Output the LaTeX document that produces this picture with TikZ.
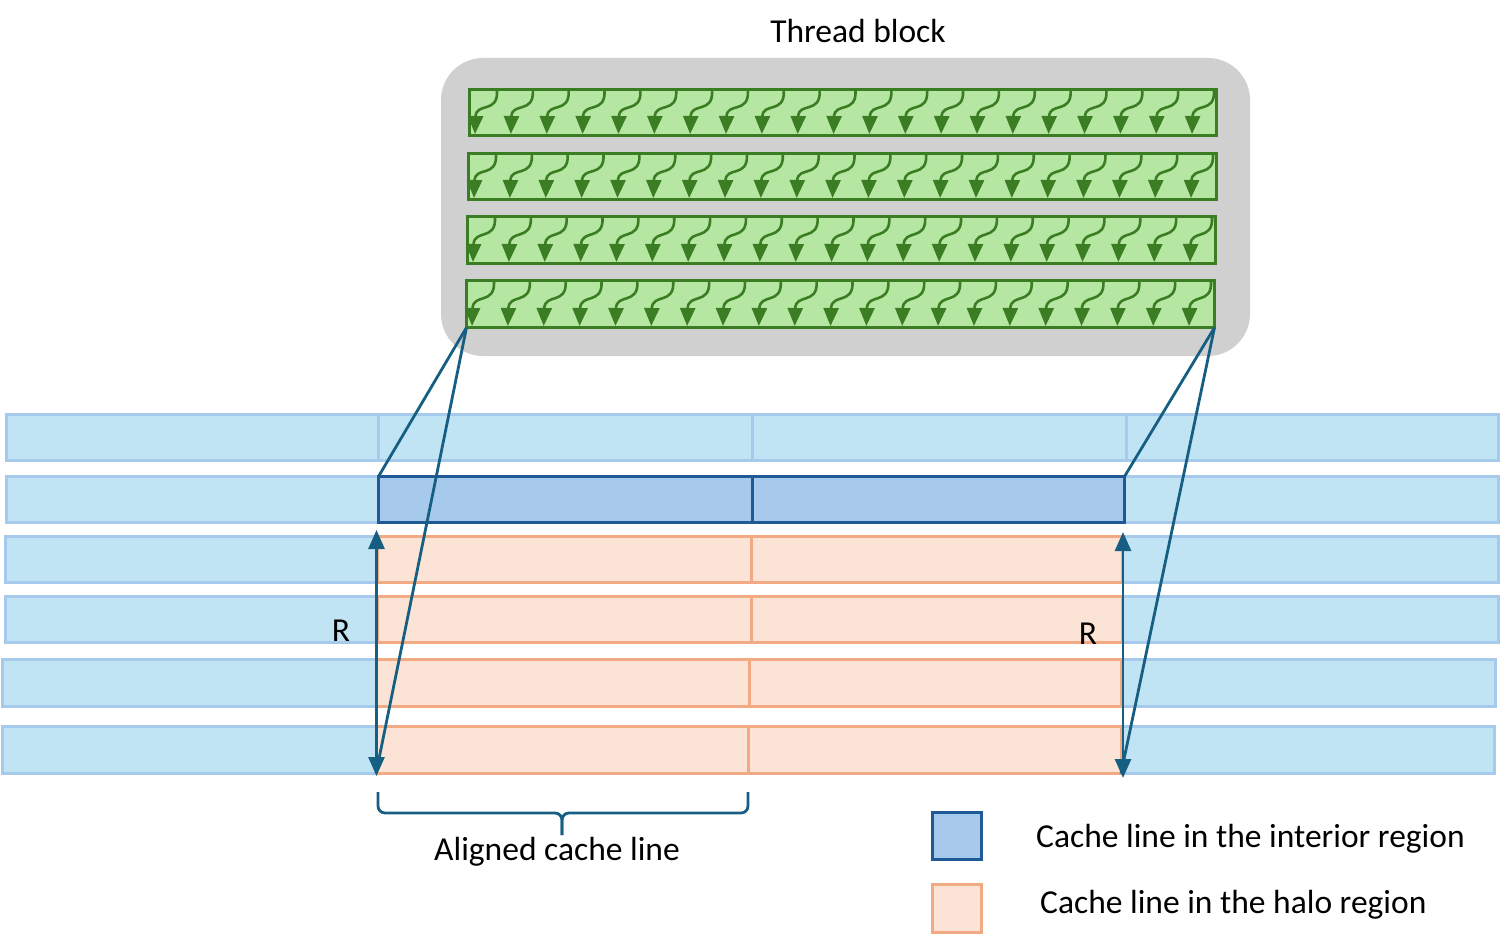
\documentclass[tikz,border=0pt]{standalone}
\usepackage{fontspec}
\setmainfont{Carlito}
\usetikzlibrary{arrows.meta}
\definecolor{rowfill}{HTML}{C1E4F5}
\definecolor{rowline}{HTML}{A6CAEC}
\definecolor{intfill}{HTML}{A6C9EC}
\definecolor{intline}{HTML}{1F5A96}
\definecolor{halofill}{HTML}{FBE3D6}
\definecolor{haloline}{HTML}{F2AA84}
\definecolor{warpfill}{HTML}{B5E6A2}
\definecolor{warpline}{HTML}{3B7D23}
\definecolor{blockgray}{HTML}{D0D0D0}
\definecolor{conncol}{HTML}{165F82}
\newcommand{\cellbox}[6]{\node[#6, minimum width={(#4-#2)*1pt}, minimum height={(#5-#3)*1pt}] (#1) at ({(#2+#4)/2},{(#3+#5)/2}) {};}
\begin{document}
\begin{tikzpicture}[x=1pt,y=-1pt,
  box/.style={draw, inner sep=0pt, outer sep=0pt, line width=3pt},
  rowcell/.style={box, draw=rowline, fill=rowfill},
  intcell/.style={box, draw=intline, fill=intfill},
  halocell/.style={box, draw=haloline, fill=halofill},
  warp/.style={box, draw=warpline, fill=warpfill},
  thread/.style={draw=warpline, line width=2.6pt, -{Triangle[length=18pt,width=15pt]}},
  conn/.style={draw=conncol, line width=2.8pt},
  rarrow/.style={conn, {Triangle[length=19pt,width=16pt]}-{Triangle[length=19pt,width=16pt]}},
  lbl/.style={font=\fontsize{33.5}{38}\selectfont, inner sep=0pt}
]
\useasboundingbox (0,0) rectangle (1510,942);

% memory rows
\cellbox{r1a}{6.5}{414.5}{378}{460.5}{rowcell}
\cellbox{r1b}{378}{414.5}{752}{460.5}{rowcell}
\cellbox{r1c}{752}{414.5}{1126}{460.5}{rowcell}
\cellbox{r1d}{1126}{414.5}{1498.5}{460.5}{rowcell}

\cellbox{r2a}{6.5}{476.5}{378.5}{522.5}{rowcell}
\cellbox{r2d}{1124.5}{476.5}{1498.5}{522.5}{rowcell}

\cellbox{r3a}{5.5}{536.5}{377}{582.5}{rowcell}
\cellbox{r3d}{1122}{536.5}{1498.5}{582.5}{rowcell}
\cellbox{r4a}{5.5}{596.5}{377}{642.5}{rowcell}
\cellbox{r4d}{1122}{596.5}{1498.5}{642.5}{rowcell}
\cellbox{r5a}{2.5}{659.5}{376}{706.5}{rowcell}
\cellbox{r5d}{1121}{659.5}{1495.5}{706.5}{rowcell}
\cellbox{r6a}{2.5}{726.5}{376}{773.5}{rowcell}
\cellbox{r6d}{1121}{726.5}{1494.5}{773.5}{rowcell}

% halo
\cellbox{h3a}{377}{536.5}{751}{582.5}{halocell}
\cellbox{h3b}{751}{536.5}{1122}{582.5}{halocell}
\cellbox{h4a}{377}{596.5}{751}{642.5}{halocell}
\cellbox{h4b}{751}{596.5}{1122}{642.5}{halocell}
\cellbox{h5a}{376}{659.5}{749}{706.5}{halocell}
\cellbox{h5b}{749}{659.5}{1121}{706.5}{halocell}
\cellbox{h6a}{376}{726.5}{748}{773.5}{halocell}
\cellbox{h6b}{748}{726.5}{1121}{773.5}{halocell}

% interior
\cellbox{int1}{378.5}{476.5}{752}{522.5}{intcell}
\cellbox{int2}{752}{476.5}{1124.5}{522.5}{intcell}

% thread block
\node[fill=blockgray, rounded corners=42pt, inner sep=0pt, minimum width=809pt, minimum height=298pt] (tb) at (845.5,207) {};
\node[lbl] (tbl) at (858,31) {Thread block};

\cellbox{w1}{469.5}{89.5}{1216.5}{135.5}{warp}
\cellbox{w2}{468.5}{153.5}{1216.5}{199.5}{warp}
\cellbox{w3}{467.5}{216.5}{1215.5}{263.5}{warp}
\cellbox{w4}{466.5}{280.5}{1214.5}{327.5}{warp}

\foreach \L/\T/\B in {468/88/137, 467/152/201, 466/215/265, 465/279/329}{
  \foreach \i in {0,...,20}{
    \pgfmathsetmacro{\xo}{\L+\i*35.85}
    \draw[thread] (\xo+29,\T+3) .. controls (\xo+30,\T+26) and (\xo+8,\T+14) .. (\xo+7,\B-3);
  }
}

% connectors from warp to cache lines
\draw[conn] (w4.south west) -- (int1.north west);
\draw[conn] (w4.south west) -- (h6a.south west);
\draw[conn] (w4.south east) -- (int2.north east);
\draw[conn] (w4.south east) -- (h6b.south east);

% R arrows
\coordinate (rlt) at (376.5,530);
\coordinate (rlb) at (376.5,776);
\coordinate (rrt) at (1123,532);
\coordinate (rrb) at (1123,778);
\draw[rarrow] (rlt) -- (rlb);
\draw[rarrow] (rrt) -- (rrb);
\node[lbl] (rl) at (341,631) {R};
\node[lbl] (rr) at (1088,634) {R};

% brace
\coordinate (bl) at (378,792);
\coordinate (br) at (748,792);
\coordinate (bt) at (562,835);
\draw[conn, rounded corners=7pt] (bl) |- (562,813) -- (bt);
\draw[conn, rounded corners=7pt] (br) |- (562,813) -- (bt);
\node[lbl] (acl) at (557,852) {Aligned cache line};

% legend
\cellbox{legint}{932.5}{812.5}{981.5}{859.5}{intcell}
\cellbox{leghalo}{932.5}{884.5}{981.5}{932.5}{halocell}
\node[lbl, anchor=west] (legintt) at (1036,839) {Cache line in the interior region};
\node[lbl, anchor=west] (leghalot) at (1040,905) {Cache line in the halo region};
\end{tikzpicture}
\end{document}
